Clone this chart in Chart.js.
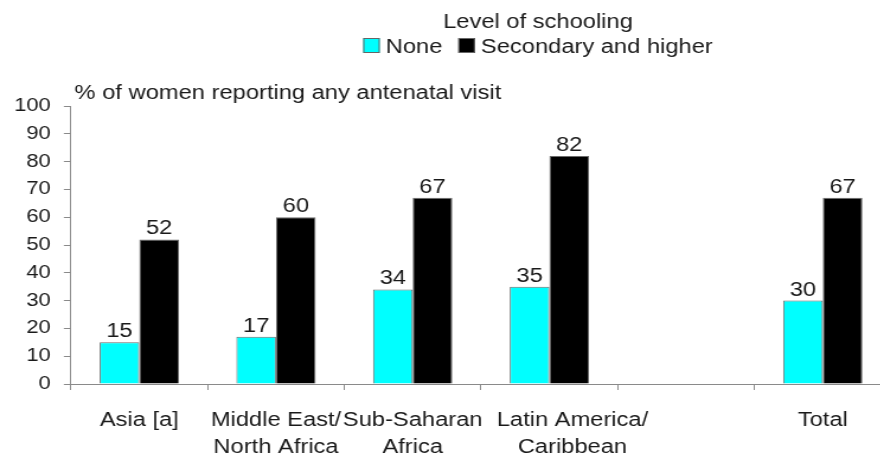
<!DOCTYPE html>
<html>
<head>
<meta charset="utf-8">
<script src="https://cdn.jsdelivr.net/npm/chart.js@4.4.1/dist/chart.umd.min.js"></script>
<style>
  html, body { margin: 0; padding: 0; background: #fff; overflow: hidden; }
  #wrap { width: 760px; height: 455px; transform: scaleX(1.185); transform-origin: 0 0; }
  canvas { display: block; }
</style>
</head>
<body>
<div id="wrap"><canvas id="c" width="760" height="455"></canvas></div>
<script>
// Antenatal care by level of schooling
const categories = [
  ['Asia [a]'],
  ['Middle East/', 'North Africa'],
  ['Sub-Saharan', 'Africa'],
  ['Latin America/', 'Caribbean'],
  [''],
  ['Total']
];
const noneValues = [15, 17, 34, 35, null, 30];
const secondaryValues = [52, 60, 67, 82, null, 67];
const seriesNames = ['None', 'Secondary and higher'];
const legendTitle = 'Level of schooling';
const axisTitle = '% of women reporting any antenatal visit';
const yTicks = [0, 10, 20, 30, 40, 50, 60, 70, 80, 90, 100];

const FONT = "'Liberation Sans', Arial, sans-serif";
const TEXT = '#1a1a1a';
const AXIS = '#8a8a8a';

// Value labels above bars, header legend and the axis caption
const annotations = {
  id: 'annotations',
  afterDatasetsDraw(chart) {
    const ctx = chart.ctx;
    ctx.save();
    ctx.font = '20px ' + FONT;
    ctx.fillStyle = TEXT;
    ctx.textAlign = 'center';
    ctx.textBaseline = 'alphabetic';
    chart.data.datasets.forEach((ds, i) => {
      chart.getDatasetMeta(i).data.forEach((bar, j) => {
        const v = ds.data[j];
        if (v === null || v === undefined) return;
        ctx.fillText(String(v), bar.x, bar.y - 5);
      });
    });
    ctx.restore();
  },
  afterDraw(chart) {
    const ctx = chart.ctx;
    const area = chart.chartArea;
    ctx.save();
    ctx.font = '20px ' + FONT;
    ctx.fillStyle = TEXT;
    ctx.textBaseline = 'alphabetic';

    // legend header
    const cx = 454;
    ctx.textAlign = 'center';
    ctx.fillText(legendTitle, cx, 28);

    const box = 14, boxH = 15, gap = 5, itemGap = 13.5;
    const widths = chart.data.datasets.map(d => ctx.measureText(d.label).width);
    let total = 0;
    widths.forEach((w, i) => { total += box + gap + w + (i ? itemGap : 0); });
    let x = cx - total / 2;
    ctx.textAlign = 'left';
    chart.data.datasets.forEach((ds, i) => {
      if (i) x += itemGap;
      ctx.fillStyle = ds.backgroundColor;
      ctx.fillRect(x, 38, box, boxH);
      ctx.strokeStyle = '#666';
      ctx.lineWidth = 1;
      ctx.strokeRect(x + 0.5, 38.5, box - 1, boxH - 1);
      ctx.fillStyle = TEXT;
      ctx.fillText(ds.label, x + box + gap, 53);
      x += box + gap + widths[i];
    });

    // y axis caption
    ctx.textAlign = 'left';
    ctx.fillText(axisTitle, area.left + 3, 99);
    ctx.restore();
  }
};

// the Latin America label sits a little to the right so it clears its neighbour
const LABEL_NUDGE = '       ';

new Chart(document.getElementById('c'), {
  type: 'bar',
  data: {
    labels: categories,
    datasets: [
      {
        label: seriesNames[0],
        data: noneValues,
        backgroundColor: '#00ffff',
        borderColor: '#6b6b6b',
        borderWidth: 1
      },
      {
        label: seriesNames[1],
        data: secondaryValues,
        backgroundColor: '#000000',
        borderColor: '#6b6b6b',
        borderWidth: 1
      }
    ]
  },
  options: {
    responsive: false,
    animation: false,
    devicePixelRatio: 1,
    categoryPercentage: 0.58,
    barPercentage: 1.0,
    layout: { padding: { top: 106, left: 1, right: 8, bottom: -23 } },
    plugins: {
      legend: { display: false },
      tooltip: { enabled: false },
      title: { display: false }
    },
    scales: {
      x: {
        offset: true,
        grid: {
          offset: true,
          drawOnChartArea: false,
          drawTicks: true,
          tickLength: 6,
          color: AXIS
        },
        border: { color: AXIS, width: 1 },
        ticks: {
          color: TEXT,
          padding: 17,
          maxRotation: 0,
          autoSkip: false,
          font: { family: FONT, size: 20, lineHeight: 1.35 },
          callback(value, index) {
            const lines = this.getLabelForValue(value);
            return index === 3 ? lines.map(l => LABEL_NUDGE + l) : lines;
          }
        }
      },
      y: {
        min: 0,
        max: 100,
        afterBuildTicks(scale) { scale.ticks = yTicks.map(v => ({ value: v })); },
        grid: {
          drawOnChartArea: false,
          drawTicks: true,
          tickLength: 6,
          color: AXIS
        },
        border: { color: AXIS, width: 1 },
        ticks: {
          color: TEXT,
          padding: 11,
          font: { family: FONT, size: 18.5 }
        }
      }
    }
  },
  plugins: [annotations]
});
</script>
</body>
</html>
